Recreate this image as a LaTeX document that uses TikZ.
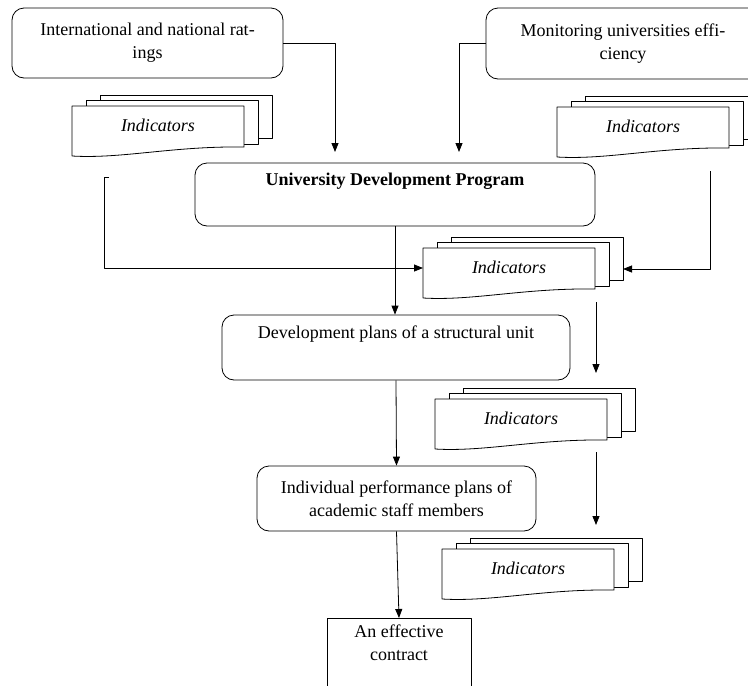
\documentclass[tikz,border=0pt]{standalone}
\usepackage{fontspec}
\setmainfont{Liberation Serif}
\usetikzlibrary{arrows.meta}
\tikzset{
  indic/.pic={
    \draw[fill=white] (28,-11) rectangle (200,32);
    \draw[fill=white] (14,-6) rectangle (186,38);
    \draw[fill=white] (0,0) -- (172,0) -- (172,41) .. controls (100,40) and (50,53) .. (0,50) -- cycle;
    \node (-t) at (86,19) {\itshape Indicators};
    \coordinate (-w) at (0,20);
    \coordinate (-e) at (200,21);
  }
}
\begin{document}
\begin{tikzpicture}[x=1pt,y=-1pt,line width=0.8pt,line join=round,>={Triangle[length=9pt,width=7pt]},
  font=\fontsize{18}{23}\selectfont,
  box/.style={draw,rounded corners=12pt,align=center,inner sep=0pt}]
  \useasboundingbox (0,0) rectangle (748,686);
  \node[box, minimum width=271, minimum height=70] (rat) at (147.5,43) {International and national rat-\\ings};
  \node[box, minimum width=274, minimum height=71] (mon) at (623,43.5) {Monitoring universities effi-\\ciency};
  \node[box, minimum width=400, minimum height=63] (udp) at (395,194.5) {\bfseries University Development Program\\\strut};
  \node[box, minimum width=348, minimum height=65] (dev) at (396,347.5) {Development plans of a structural unit\\\strut};
  \node[box, minimum width=279, minimum height=65] (ind) at (396.5,498.5) {Individual performance plans of\\academic staff members};
  \node[draw, align=center, anchor=north, minimum width=144, inner sep=6pt, text depth=60pt] (con) at (399,618) {An effective\\contract};
  \pic (doc1) at (72,106) {indic};
  \pic (doc2) at (557,107) {indic};
  \pic (doc3) at (423,248) {indic};
  \pic (doc4) at (435,399) {indic};
  \pic (doc5) at (442,549) {indic};
  \coordinate (udp-l) at (335,152);
  \coordinate (udp-r) at (459,152);
  \coordinate (left-top) at (109,177);
  \coordinate (right-top) at (710,171);
  \coordinate (doc3-out) at (596,302);
  \coordinate (doc4-in) at (596,373);
  \coordinate (doc4-out) at (596,452);
  \coordinate (doc5-in) at (596,525);
  \draw[->] (rat.east) -| (udp-l);
  \draw[->] (mon.west) -| (udp-r);
  \draw[->] (left-top) -- ++(-5,0) |- (doc3-w);
  \draw[->] (right-top) |- (doc3-e);
  \draw[->] (udp.south) -- (udp.south |- dev.north);
  \draw[->] (dev.south) -- (ind.north);
  \draw[->] (ind.south) -- (con.north);
  \draw[->] (doc3-out) -- (doc4-in);
  \draw[->] (doc4-out) -- (doc5-in);
\end{tikzpicture}
\end{document}
